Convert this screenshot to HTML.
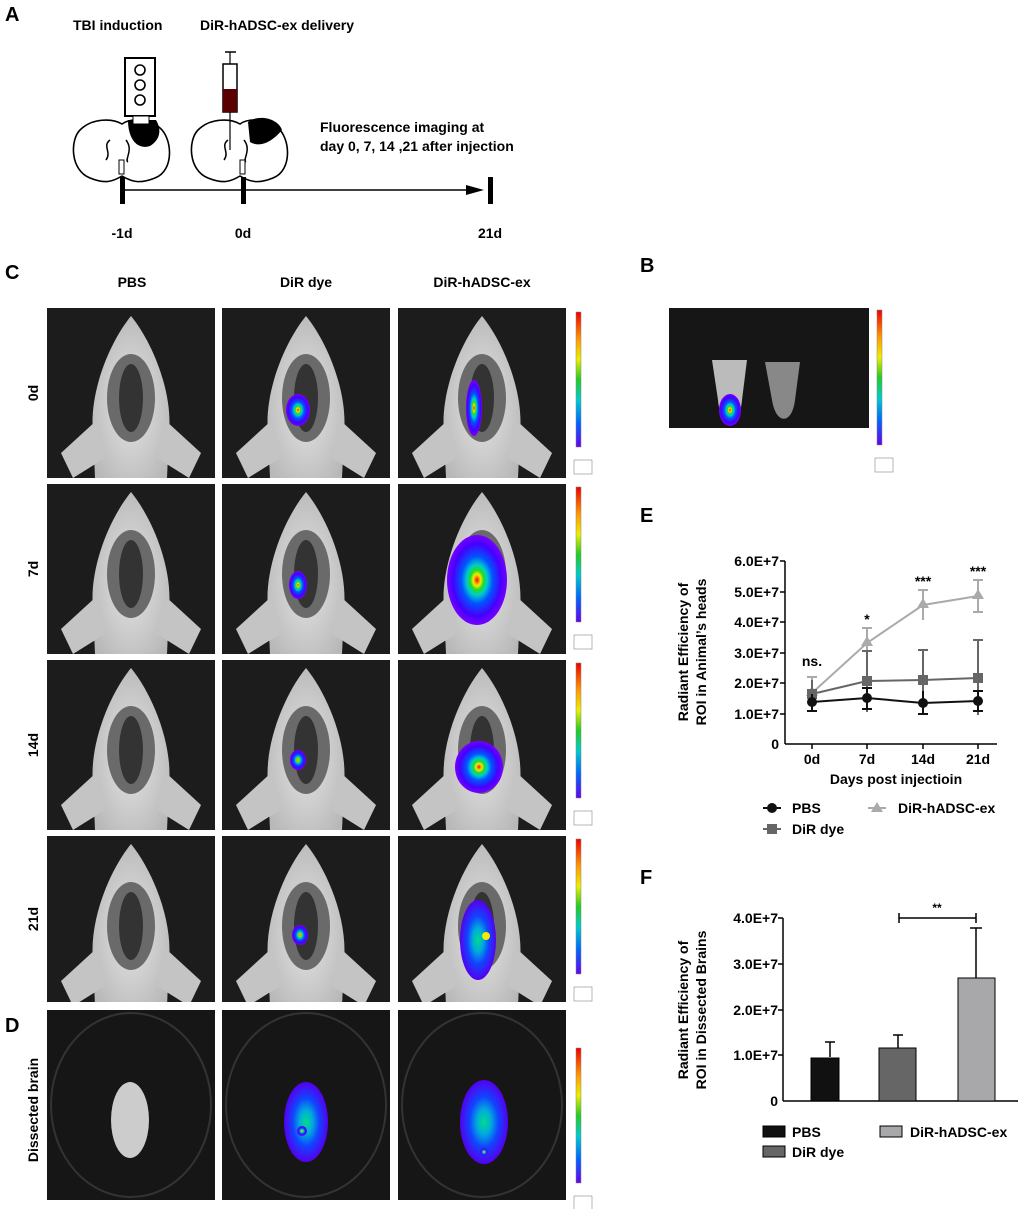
<!DOCTYPE html>
<html><head><meta charset="utf-8"><style>
body{margin:0;background:#fff}
svg text{font-family:"Liberation Sans",Arial,sans-serif;font-weight:bold;fill:#000}
</style></head><body>
<svg width="1020" height="1209" viewBox="0 0 1020 1209" xmlns="http://www.w3.org/2000/svg">
<defs>
<radialGradient id="heat"><stop offset="0" stop-color="#e00"/><stop offset="0.07" stop-color="#f80"/><stop offset="0.13" stop-color="#ee0"/><stop offset="0.22" stop-color="#2d2"/><stop offset="0.34" stop-color="#0cc"/><stop offset="0.52" stop-color="#05f"/><stop offset="0.8" stop-color="#40f"/><stop offset="1" stop-color="#70f"/></radialGradient>
<radialGradient id="heatB"><stop offset="0" stop-color="#0d8"/><stop offset="0.3" stop-color="#0ad"/><stop offset="0.6" stop-color="#14f"/><stop offset="1" stop-color="#50e"/></radialGradient>
<radialGradient id="skin" cx="0.5" cy="0.55" r="0.6"><stop offset="0" stop-color="#e4e4e4"/><stop offset="1" stop-color="#b8b8b8"/></radialGradient>
<linearGradient id="cbar" x1="0" y1="0" x2="0" y2="1"><stop offset="0" stop-color="#e00"/><stop offset="0.2" stop-color="#f90"/><stop offset="0.35" stop-color="#ee0"/><stop offset="0.5" stop-color="#2c2"/><stop offset="0.65" stop-color="#0cc"/><stop offset="0.82" stop-color="#06f"/><stop offset="1" stop-color="#60e"/></linearGradient>
<g id="mouse">
<rect width="168" height="170" fill="#1c1c1c"/>
<path d="M48,170 L46,125 C42,85 62,35 84,8 C106,35 126,85 122,125 L120,170 Z" fill="url(#skin)"/>
<path d="M50,112 L14,145 L26,170 L58,150 Z" fill="#c4c4c4"/>
<path d="M118,112 L154,145 L142,170 L110,150 Z" fill="#c4c4c4"/>
<ellipse cx="84" cy="90" rx="24" ry="44" fill="#6a6a6a"/>
<ellipse cx="84" cy="90" rx="12" ry="34" fill="#333"/>
</g>
<g id="dish"><rect width="168" height="190" fill="#161616"/><ellipse cx="84" cy="95" rx="80" ry="92" fill="none" stroke="#333" stroke-width="2"/></g>
<g id="cb"><rect x="0" y="0" width="5" height="135" fill="url(#cbar)" stroke="#888" stroke-width="0.5"/><rect x="-2" y="148" width="18" height="14" fill="#fff" stroke="#888" stroke-width="0.6"/></g>
</defs>

<!-- Panel A -->
<text x="5" y="21" font-size="20">A</text>
<text x="73" y="30" font-size="14">TBI induction</text>
<text x="200" y="30" font-size="14">DiR-hADSC-ex delivery</text>
<rect x="125" y="58" width="30" height="58" fill="#fff" stroke="#000" stroke-width="2"/>
<circle cx="140" cy="70" r="5" fill="none" stroke="#000" stroke-width="1.6"/>
<circle cx="140" cy="85" r="5" fill="none" stroke="#000" stroke-width="1.6"/>
<circle cx="140" cy="100" r="5" fill="none" stroke="#000" stroke-width="1.6"/>
<path d="M80,130 C70,140 70,170 90,178 C105,184 112,182 122,176 C132,182 140,184 155,178 C175,170 172,138 160,128 C150,118 130,118 122,124 C112,118 92,118 80,130 Z" fill="#fff" stroke="#000" stroke-width="1.6"/>
<path d="M128,120 L156,120 C162,130 160,140 150,146 C138,150 128,140 128,120 Z" fill="#000"/>
<rect x="133" y="116" width="16" height="8" fill="#fff" stroke="#000"/>
<path d="M110,140 C102,146 112,152 106,160 M126,140 C134,150 124,160 128,162" fill="none" stroke="#000" stroke-width="1.5"/>
<rect x="119" y="160" width="5" height="14" fill="#fff" stroke="#000"/>
<path d="M198,130 C188,140 188,170 208,178 C223,184 230,182 240,176 C250,182 258,184 273,178 C293,170 290,138 278,128 C268,118 248,118 240,124 C230,118 210,118 198,130 Z" fill="#fff" stroke="#000" stroke-width="1.6"/>
<path d="M248,122 C258,114 278,118 282,130 C272,142 260,148 250,142 Z" fill="#000"/>
<path d="M228,140 C220,146 230,152 224,160 M244,140 C252,150 242,160 246,162" fill="none" stroke="#000" stroke-width="1.5"/>
<rect x="240" y="160" width="5" height="14" fill="#fff" stroke="#000"/>
<line x1="230" y1="52" x2="230" y2="150" stroke="#000" stroke-width="1.2"/>
<line x1="225" y1="52" x2="236" y2="52" stroke="#000" stroke-width="1.5"/>
<rect x="223" y="64" width="14" height="48" fill="#fff" stroke="#000" stroke-width="1.5"/>
<rect x="223" y="89" width="14" height="23" fill="#5a0000"/>
<text x="320" y="132" font-size="14">Fluorescence imaging at</text>
<text x="320" y="151" font-size="14">day 0, 7, 14 ,21  after injection</text>
<line x1="122" y1="190" x2="478" y2="190" stroke="#000" stroke-width="1.5"/>
<path d="M466,185 L484,190 L466,195 Z" fill="#000"/>
<rect x="120" y="177" width="5" height="27" fill="#000"/>
<rect x="241" y="177" width="5" height="27" fill="#000"/>
<rect x="488" y="177" width="5" height="27" fill="#000"/>
<text x="122" y="238" font-size="14" text-anchor="middle">-1d</text>
<text x="243" y="238" font-size="14" text-anchor="middle">0d</text>
<text x="490" y="238" font-size="14" text-anchor="middle">21d</text>

<!-- Panel C -->
<text x="5" y="279" font-size="20">C</text>
<text x="132" y="287" font-size="14" text-anchor="middle">PBS</text>
<text x="306" y="287" font-size="14" text-anchor="middle">DiR dye</text>
<text x="482" y="287" font-size="14" text-anchor="middle">DiR-hADSC-ex</text>
<text transform="translate(38,393) rotate(-90)" font-size="14" text-anchor="middle">0d</text>
<text transform="translate(38,569) rotate(-90)" font-size="14" text-anchor="middle">7d</text>
<text transform="translate(38,745) rotate(-90)" font-size="14" text-anchor="middle">14d</text>
<text transform="translate(38,919) rotate(-90)" font-size="14" text-anchor="middle">21d</text>

<use href="#mouse" x="47" y="308"/><use href="#mouse" x="222" y="308"/><use href="#mouse" x="398" y="308"/>
<use href="#mouse" x="47" y="484"/><use href="#mouse" x="222" y="484"/><use href="#mouse" x="398" y="484"/>
<use href="#mouse" x="47" y="660"/><use href="#mouse" x="222" y="660"/><use href="#mouse" x="398" y="660"/>
<use href="#mouse" x="47" y="836"/><use href="#mouse" x="222" y="836"/><use href="#mouse" x="398" y="836"/>
<rect x="0" y="1002" width="600" height="6" fill="#fff"/>

<ellipse cx="298" cy="410" rx="12" ry="16" fill="url(#heat)"/>
<ellipse cx="474" cy="408" rx="8" ry="28" fill="url(#heat)"/>
<ellipse cx="298" cy="585" rx="9" ry="14" fill="url(#heat)"/>
<ellipse cx="477" cy="580" rx="30" ry="45" fill="url(#heat)"/>
<ellipse cx="298" cy="760" rx="8" ry="10" fill="url(#heat)"/>
<ellipse cx="479" cy="767" rx="24" ry="26" fill="url(#heat)"/>
<ellipse cx="300" cy="935" rx="8" ry="10" fill="url(#heat)"/>
<ellipse cx="478" cy="940" rx="18" ry="40" fill="url(#heatB)"/>
<circle cx="486" cy="936" r="4" fill="#ee0"/>

<use href="#cb" x="576" y="312"/><use href="#cb" x="576" y="487"/><use href="#cb" x="576" y="663"/><use href="#cb" x="576" y="839"/>

<!-- Panel D -->
<text x="5" y="1032" font-size="20">D</text>
<text transform="translate(38,1110) rotate(-90)" font-size="14" text-anchor="middle">Dissected brain</text>
<use href="#dish" x="47" y="1010"/><use href="#dish" x="222" y="1010"/><use href="#dish" x="398" y="1010"/>
<ellipse cx="130" cy="1120" rx="19" ry="38" fill="#ccc"/>
<ellipse cx="306" cy="1122" rx="22" ry="40" fill="url(#heatB)"/>
<circle cx="302" cy="1131" r="5" fill="url(#heat)"/>
<ellipse cx="484" cy="1122" rx="24" ry="42" fill="url(#heatB)"/>
<circle cx="484" cy="1152" r="4" fill="url(#heat)"/>
<use href="#cb" x="576" y="1048"/>

<!-- Panel B -->
<text x="640" y="272" font-size="20">B</text>
<rect x="669" y="308" width="200" height="120" fill="#161616"/>
<path d="M712,360 L747,360 L742,400 C740,428 720,428 718,400 Z" fill="#bbb"/>
<ellipse cx="730" cy="410" rx="11" ry="16" fill="url(#heat)"/>
<path d="M765,362 L800,362 L795,400 C792,425 776,425 772,400 Z" fill="#888"/>
<use href="#cb" x="877" y="310"/>

<!-- Panel E -->
<text x="640" y="522" font-size="20">E</text>
<text transform="translate(688,652) rotate(-90)" font-size="14" text-anchor="middle">Radiant Efficiency  of</text>
<text transform="translate(706,652) rotate(-90)" font-size="14" text-anchor="middle">ROI in Animal’s heads</text>
<g font-size="14" text-anchor="end">
<text x="779" y="566">6.0E+7</text><text x="779" y="597">5.0E+7</text>
<text x="779" y="627">4.0E+7</text><text x="779" y="658">3.0E+7</text>
<text x="779" y="688">2.0E+7</text><text x="779" y="719">1.0E+7</text><text x="779" y="749">0</text>
</g>
<g stroke="#000" stroke-width="1.5">
<line x1="785" y1="561" x2="785" y2="744"/><line x1="785" y1="744" x2="997" y2="744"/>
<line x1="780" y1="561" x2="785" y2="561"/><line x1="780" y1="592" x2="785" y2="592"/><line x1="780" y1="622" x2="785" y2="622"/><line x1="780" y1="653" x2="785" y2="653"/><line x1="780" y1="683" x2="785" y2="683"/><line x1="780" y1="714" x2="785" y2="714"/>
<line x1="812" y1="744" x2="812" y2="749"/><line x1="867" y1="744" x2="867" y2="749"/><line x1="923" y1="744" x2="923" y2="749"/><line x1="978" y1="744" x2="978" y2="749"/>
</g>
<g font-size="14" text-anchor="middle"><text x="812" y="764">0d</text><text x="867" y="764">7d</text><text x="923" y="764">14d</text><text x="978" y="764">21d</text></g>
<text x="896" y="784" font-size="14" text-anchor="middle">Days post injectioin</text>
<g stroke="#aaa" stroke-width="2" fill="none">
<path d="M812,693 L867,643 L923,605 L978,596"/>
<path d="M812,677 V708 M807,677 H817 M867,628 V658 M862,628 H872 M923,590 V620 M918,590 H928 M978,580 V612 M973,580 H983 M973,612 H983"/>
</g>
<g fill="#aaa"><path d="M812,686 l6,10 h-12z"/><path d="M867,636 l6,10 h-12z"/><path d="M923,598 l6,10 h-12z"/><path d="M978,589 l6,10 h-12z"/></g>
<g stroke="#666" stroke-width="2" fill="none">
<path d="M812,694 L867,681 L923,680 L978,678"/>
<path d="M812,680 V708 M867,651 V712 M862,651 H872 M923,650 V710 M918,650 H928 M978,640 V715 M973,640 H983"/>
</g>
<g fill="#666"><rect x="807" y="689" width="10" height="10"/><rect x="862" y="676" width="10" height="10"/><rect x="918" y="675" width="10" height="10"/><rect x="973" y="673" width="10" height="10"/></g>
<g stroke="#111" stroke-width="2" fill="none">
<path d="M812,702 L867,698 L923,703 L978,701"/>
<path d="M812,694 V711 M807,711 H817 M867,688 V709 M862,688 H872 M862,709 H872 M923,691 V714 M918,714 H928 M978,691 V711 M973,691 H983 M973,711 H983"/>
</g>
<g fill="#111"><circle cx="812" cy="702" r="5"/><circle cx="867" cy="698" r="5"/><circle cx="923" cy="703" r="5"/><circle cx="978" cy="701" r="5"/></g>
<text x="812" y="666" font-size="14" text-anchor="middle">ns.</text>
<text x="867" y="624" font-size="14" text-anchor="middle">*</text>
<text x="923" y="586" font-size="14" text-anchor="middle">***</text>
<text x="978" y="576" font-size="14" text-anchor="middle">***</text>
<line x1="763" y1="808" x2="781" y2="808" stroke="#111" stroke-width="2"/><circle cx="772" cy="808" r="5" fill="#111"/>
<text x="792" y="813" font-size="14">PBS</text>
<line x1="763" y1="829" x2="781" y2="829" stroke="#666" stroke-width="2"/><rect x="767" y="824" width="10" height="10" fill="#666"/>
<text x="792" y="834" font-size="14">DiR dye</text>
<line x1="868" y1="808" x2="886" y2="808" stroke="#aaa" stroke-width="2"/><path d="M877,802 l6,10 h-12z" fill="#aaa"/>
<text x="898" y="813" font-size="14">DiR-hADSC-ex</text>

<!-- Panel F -->
<text x="640" y="884" font-size="20">F</text>
<text transform="translate(688,1010) rotate(-90)" font-size="14" text-anchor="middle">Radiant Efficiency  of</text>
<text transform="translate(706,1010) rotate(-90)" font-size="14" text-anchor="middle">ROI in Dissected Brains</text>
<g font-size="14" text-anchor="end">
<text x="778" y="923">4.0E+7</text><text x="778" y="969">3.0E+7</text><text x="778" y="1015">2.0E+7</text><text x="778" y="1060">1.0E+7</text><text x="778" y="1106">0</text>
</g>
<g stroke="#000" stroke-width="1.5">
<line x1="783" y1="918" x2="783" y2="1101"/><line x1="783" y1="1101" x2="1018" y2="1101"/>
<line x1="778" y1="918" x2="783" y2="918"/><line x1="778" y1="964" x2="783" y2="964"/><line x1="778" y1="1010" x2="783" y2="1010"/><line x1="778" y1="1055" x2="783" y2="1055"/>
</g>
<g stroke="#000" stroke-width="1.5">
<line x1="830" y1="1057" x2="830" y2="1042"/><line x1="825" y1="1042" x2="835" y2="1042"/>
<line x1="898" y1="1048" x2="898" y2="1035"/><line x1="893" y1="1035" x2="903" y2="1035"/>
<line x1="976" y1="978" x2="976" y2="928"/><line x1="970" y1="928" x2="982" y2="928"/>
<line x1="899" y1="918" x2="976" y2="918"/><line x1="899" y1="913" x2="899" y2="923"/><line x1="976" y1="913" x2="976" y2="923"/>
</g>
<rect x="811" y="1058" width="28" height="43" fill="#111" stroke="#000"/>
<rect x="879" y="1048" width="37" height="53" fill="#666" stroke="#000"/>
<rect x="958" y="978" width="37" height="123" fill="#a8a8aa" stroke="#000"/>
<text x="937" y="912" font-size="12" text-anchor="middle">**</text>
<rect x="763" y="1126" width="22" height="11" fill="#111" stroke="#000"/><text x="792" y="1137" font-size="14">PBS</text>
<rect x="763" y="1146" width="22" height="11" fill="#666" stroke="#000"/><text x="792" y="1157" font-size="14">DiR dye</text>
<rect x="880" y="1126" width="22" height="11" fill="#a8a8aa" stroke="#000"/><text x="910" y="1137" font-size="14">DiR-hADSC-ex</text>
</svg>
</body></html>
